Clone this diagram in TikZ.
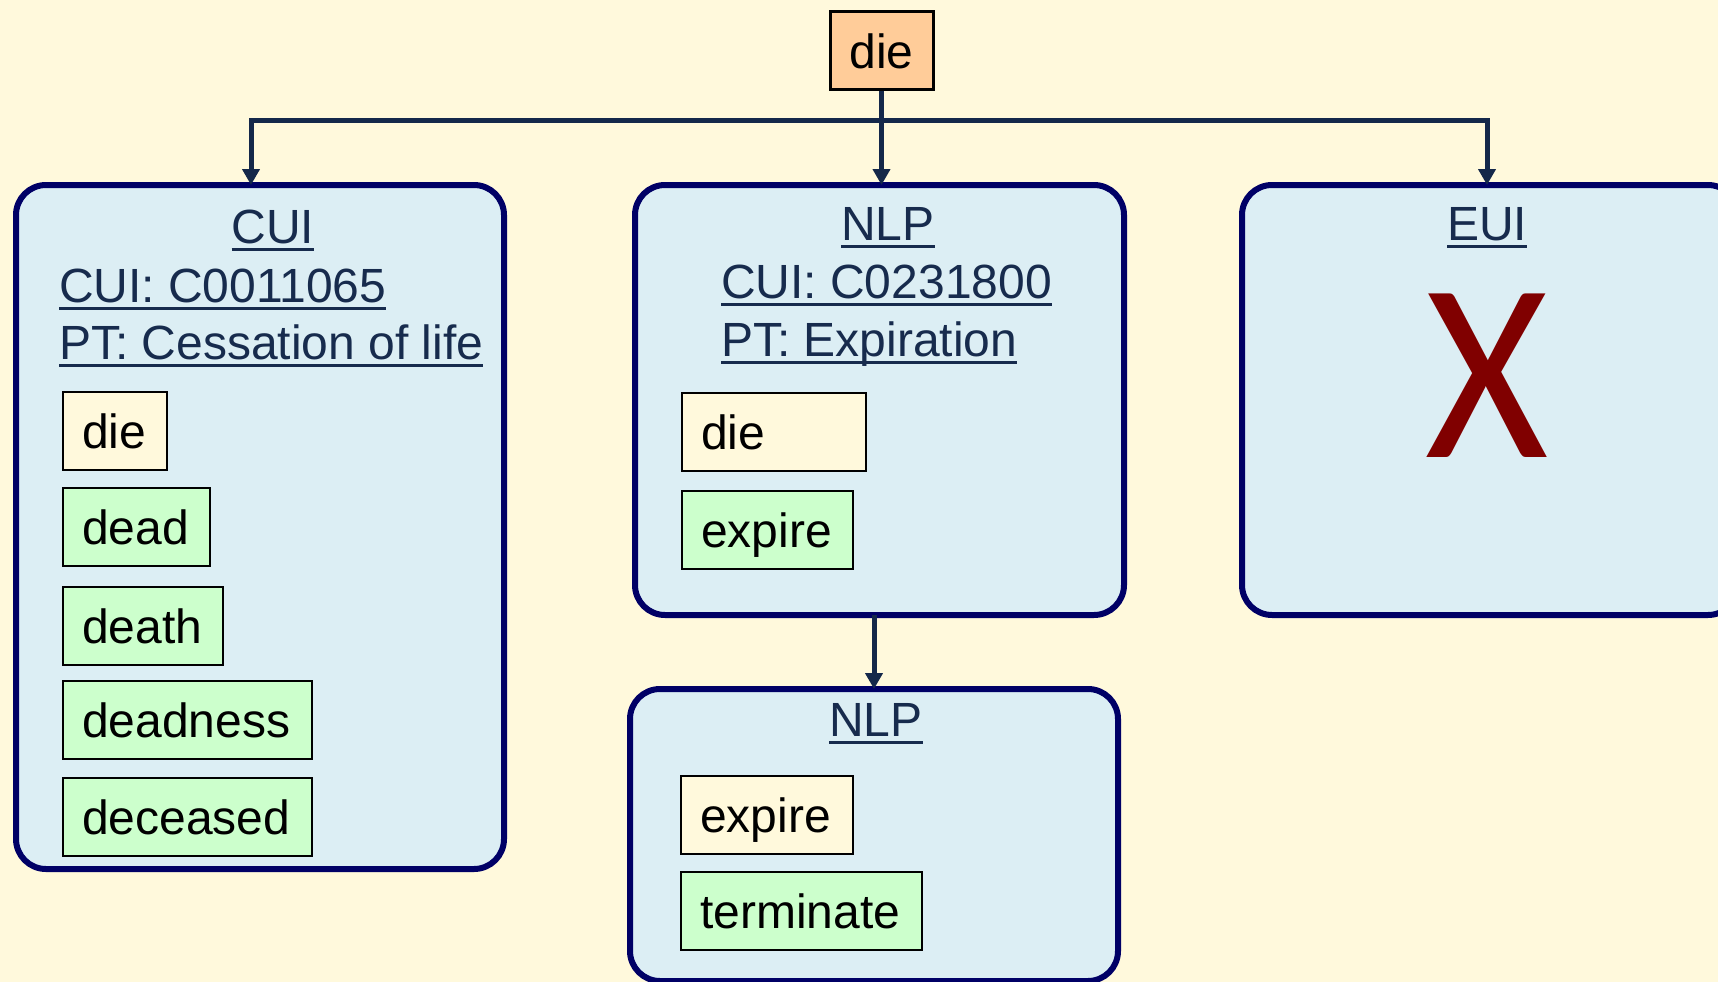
\documentclass[tikz,border=0pt]{standalone}
\usepackage{fontspec}
\usepackage{graphicx}
\setmainfont{Liberation Sans}
\newfontfamily\xfont{Carlito}
\usetikzlibrary{arrows.meta}
\definecolor{bgc}{HTML}{FFF9DC}
\definecolor{boxfill}{HTML}{DCEEF4}
\definecolor{boxline}{HTML}{000066}
\definecolor{connc}{HTML}{14284A}
\definecolor{hdrc}{HTML}{172B4D}
\definecolor{greenc}{HTML}{CCFFCC}
\definecolor{peach}{HTML}{FFCC99}
\definecolor{xred}{HTML}{800000}
\newcommand\mainsize{\fontsize{48}{57}\selectfont}
\newcommand\myul[1]{\setbox0\hbox{#1}\rlap{\rule[-7.5pt]{\wd0}{3pt}}\box0}
\tikzset{
 bigbox/.style={draw=boxline, fill=boxfill, line width=6pt, rounded corners=30pt, rectangle, anchor=north west, outer sep=0pt, inner sep=0pt},
 wordbox/.style={draw=black, line width=2pt, rectangle, anchor=north west, outer sep=0pt, inner xsep=19pt, inner ysep=0pt, minimum height=78pt, text height=34pt, text depth=0pt, align=left, font=\mainsize},
 syn/.style={wordbox, fill=greenc},
 term/.style={wordbox, fill=bgc},
 hdr/.style={inner sep=0pt, outer sep=0pt, text=hdrc, font=\mainsize},
 conn/.style={draw=connc, line width=5pt, -{Triangle[width=17pt,length=16pt]}},
}
\begin{document}
\begin{tikzpicture}[x=1pt,y=-1pt]
\fill[bgc] (0,0) rectangle (1718,982);
\useasboundingbox (0,0) rectangle (1718,982);

% top node
\node[draw=black, line width=3pt, fill=peach, anchor=north west, minimum width=103pt, minimum height=77pt, inner sep=0pt, text height=36pt, text depth=0pt, font=\mainsize] (die) at (828.5,10.5) {die};

% big boxes
\node[bigbox, minimum width=488pt, minimum height=684pt] (cui) at (16,185) {};
\node[bigbox, minimum width=489pt, minimum height=430pt] (nlp) at (635,185) {};
\node[bigbox, minimum width=496pt, minimum height=430pt] (eui) at (1242,185) {};
\node[bigbox, minimum width=488pt, minimum height=292pt] (nlptwo) at (630,689) {};

% connectors
\coordinate (bus) at (0,120);
\coordinate (cuiin) at (251,185);
\coordinate (euiin) at (1487,185);
\draw[conn] (die.south |- bus) -| (cuiin);
\draw[conn] (die.south |- bus) -| (euiin);
\draw[conn] (die.south) -- (die.south |- nlp.north);
\draw[conn] (nlp.south -| nlptwo.north) -- (nlptwo.north);

% CUI box
\node[hdr, anchor=base] (cuih) at (273,243) {\myul{CUI}};
\node[hdr, anchor=base west] (cuic) at (59,302) {\myul{CUI: C0011065}};
\node[hdr, anchor=base west] (cuip) at (59,359) {\myul{PT: Cessation of life}};
\node[term, minimum width=104pt, text width=66pt] (w1) at (63,392) {die};
\node[syn, minimum width=147pt, text width=109pt] (w2) at (63,488) {dead};
\node[syn, minimum width=160pt, text width=122pt] (w3) at (63,587) {death};
\node[syn, minimum width=249pt, text width=211pt] (w4) at (63,681) {deadness};
\node[syn, minimum width=249pt, text width=211pt] (w5) at (63,778) {deceased};

% NLP box
\node[hdr, anchor=base] (nlph) at (888,240) {\myul{NLP}};
\node[hdr, anchor=base west] (nlpc) at (721,298) {\myul{CUI: C0231800}};
\node[hdr, anchor=base west] (nlpp) at (721,356) {\myul{PT: Expiration}};
\node[term, minimum width=184pt, text width=146pt] (n1) at (682,393) {die};
\node[syn, minimum width=171pt, text width=133pt] (n2) at (682,491) {expire};

% EUI box
\node[hdr, anchor=base] (euih) at (1487,240) {\myul{EUI}};
\node[text=xred, font=\xfont\fontsize{255}{255}\selectfont, inner sep=0pt, anchor=base] (xmark) at (1487.5,457) {\scalebox{0.93}[1]{X}};

% NLP second box
\node[hdr, anchor=base] (nlpth) at (876,736) {\myul{NLP}};
\node[term, minimum width=172pt, text width=134pt] (m1) at (681,776) {expire};
\node[syn, minimum width=241pt, text width=203pt] (m2) at (681,872) {terminate};
\end{tikzpicture}
\end{document}
